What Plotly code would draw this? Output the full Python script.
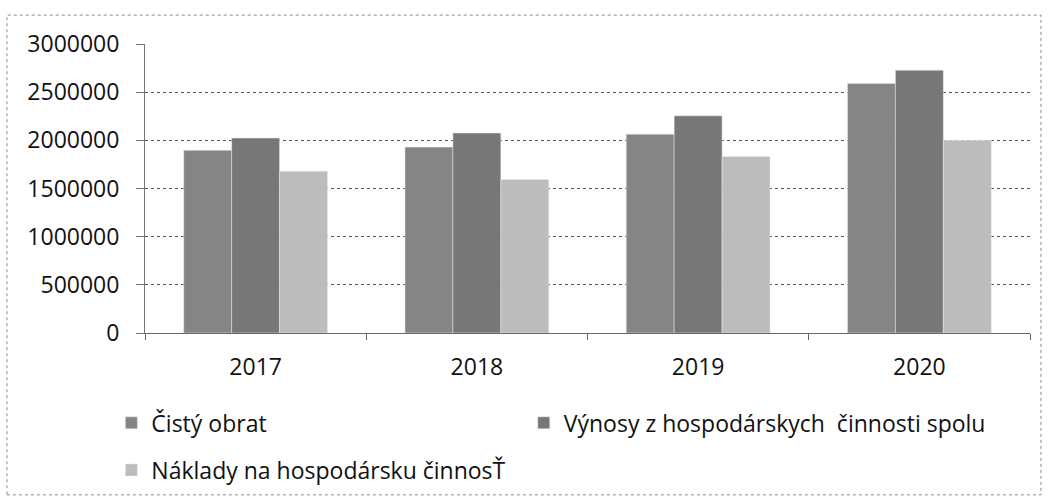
import plotly.graph_objects as go

roky = ["2017", "2018", "2019", "2020"]
cisty_obrat = [1896000, 1930000, 2064000, 2590000]
vynosy = [2024000, 2076000, 2254000, 2728000]
naklady = [1680000, 1593000, 1833000, 2000000]

font = "Open Sans, Liberation Sans, sans-serif"

fig = go.Figure()
fig.add_trace(go.Bar(x=roky, y=cisty_obrat, name="Čistý obrat", marker_color="#858585"))
fig.add_trace(go.Bar(x=roky, y=vynosy, name="Výnosy z hospodárskych  činnosti spolu", marker_color="#777777",
                     legend="legend3"))
fig.add_trace(go.Bar(x=roky, y=naklady, name="Náklady na hospodársku činnosŤ", marker_color="#bcbcbc",
                     legend="legend2"))

leg = dict(orientation="h", xanchor="left", yanchor="middle", font=dict(size=23),
           itemwidth=30, bgcolor="rgba(0,0,0,0)")

fig.update_layout(
    width=1049, height=504,
    margin=dict(l=145, r=19, t=44, b=171),
    paper_bgcolor="white", plot_bgcolor="white",
    font=dict(family=font, size=23, color="#111111"),
    barmode="group", bargap=0.35, bargroupgap=0,
    legend=dict(leg, x=-0.038, y=-0.311),
    legend3=dict(leg, x=0.428, y=-0.311),
    legend2=dict(leg, x=-0.038, y=-0.474),
    showlegend=True,
)
fig.update_xaxes(showline=True, linecolor="#666666", linewidth=1, ticks="outside",
                 tickson="boundaries", ticklen=6, tickcolor="#666666",
                 tickfont=dict(size=23), ticklabelstandoff=13, showgrid=False)
fig.update_yaxes(range=[0, 3000000], tickvals=[0, 500000, 1000000, 1500000, 2000000, 2500000, 3000000],
                 ticktext=["0", "500000", "1000000", "1500000", "2000000", "2500000", "3000000"],
                 showgrid=True, gridcolor="#555555", griddash="dot", gridwidth=1,
                 showline=True, linecolor="#777777", ticks="outside", ticklen=8,
                 tickcolor="#777777", tickfont=dict(size=23), ticklabelstandoff=12, zeroline=False)

fig.add_shape(type="rect", xref="paper", yref="paper", x0=-0.156, x1=1.0124, y0=-0.56, y1=1.1,
              line=dict(color="#888888", width=1, dash="dot"), layer="below")

fig.write_html("out.html", config={"displayModeBar": False},
               post_script="document.body.style.margin='0';")
